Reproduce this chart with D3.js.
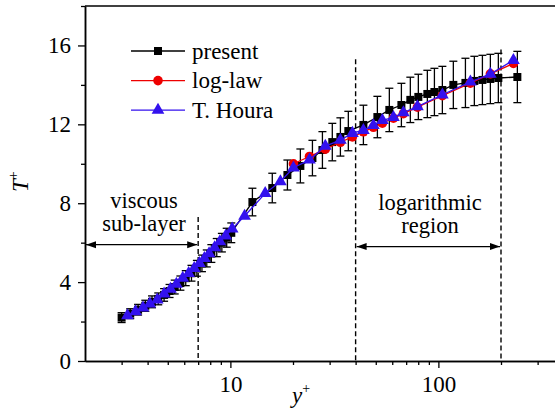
<!DOCTYPE html>
<html>
<head>
<meta charset="utf-8">
<script src="https://cdn.jsdelivr.net/npm/d3@7"></script>
<style>
    body { margin: 0; background: #fff; }
</style>
</head>
<body>
<svg id="chart" width="555" height="414"></svg>
<script>
"use strict";

const serif = "Liberation Serif";

// present (black squares, with error bars)
const presentYp = [3.0, 3.3, 3.6, 3.9, 4.2, 4.5, 4.8, 5.1, 5.4, 5.75, 6.1, 6.5, 6.9, 7.3, 7.7, 8.1, 8.6, 9.1, 9.6, 10.1,
    12.76, 15.9, 18.8, 21.7, 24.8, 27.7, 30.9, 33.8, 36.9, 43.6, 50.9, 58.1, 66.4, 73.3, 80.1, 88.5, 95.7,
    104.5, 118, 134.9, 148.9, 162.8, 177.8, 194.2, 239.7];
const presentT = [2.2, 2.4, 2.6, 2.8, 3.0, 3.15, 3.35, 3.55, 3.75, 3.95, 4.2, 4.45, 4.7, 4.95, 5.2, 5.45, 5.75, 6.0, 6.25, 6.5,
    8.06, 8.77, 9.43, 9.89, 10.29, 10.7, 11.1, 11.36, 11.66, 11.97, 12.37, 12.73, 12.98, 13.24, 13.39, 13.54, 13.64,
    13.74, 14.0, 14.1, 14.2, 14.25, 14.3, 14.35, 14.4];
const presentErr = [0.25, 0.25, 0.27, 0.28, 0.3, 0.3, 0.32, 0.33, 0.35, 0.36, 0.38, 0.4, 0.4, 0.42, 0.43, 0.45, 0.46, 0.47, 0.48, 0.5,
    0.7, 0.75, 0.76, 0.86, 0.9, 0.93, 0.95, 0.97, 1.0, 1.0, 1.05, 1.1, 1.1, 1.15, 1.15, 1.2, 1.2,
    1.2, 1.2, 1.25, 1.25, 1.25, 1.25, 1.25, 1.3];

// log-law (red circles)
const logLawYp = [20.1, 24.0, 28.6, 33.8, 38.6, 43.6, 48.7, 53.8, 60.8, 67.9, 79.3, 104.5, 142.5, 177.8, 229.5];
const logLawT = [10.0, 10.37, 10.74, 11.09, 11.36, 11.62, 11.85, 12.06, 12.31, 12.54, 12.87, 13.45, 14.09, 14.56, 15.09];

// T. Houra (blue triangles)
const houraYp = [3.2, 3.5, 3.8, 4.1, 4.45, 4.8, 5.15, 5.5, 5.9, 6.3, 6.7, 7.1, 7.5, 7.9, 8.4, 8.9, 9.5, 10.2,
    11.7, 14.7, 17.4, 20.1, 24.0, 28.6, 33.8, 38.6, 43.6, 48.7, 53.8, 60.8, 67.9, 79.3, 104.5, 142.5, 177.8, 229.5];
const houraT = [2.3, 2.5, 2.7, 2.9, 3.1, 3.4, 3.65, 3.9, 4.2, 4.45, 4.7, 4.95, 5.2, 5.45, 5.75, 6.05, 6.35, 6.7,
    7.35, 8.5, 9.1, 9.8, 10.2, 10.9, 11.2, 11.55, 11.7, 11.95, 12.2, 12.35, 12.6, 12.9, 13.5, 14.15, 14.55, 15.25];

// axis ticks
const yMajorTicks = [0, 4, 8, 12, 16];
const yMinorTicks = [2, 6, 10, 14, 18];
const xMajorTicks = [10, 100];
const xMinorTicks = [3, 4, 5, 6, 7, 8, 9, 20, 30, 40, 50, 60, 70, 80, 90, 200, 300];

// region boundaries (y+)
const viscousEdge = 7, logStart = 40, logEnd = 200;

const svg = d3.select("#chart").attr("font-family", serif);
const margin = {left: 85, top: 6},
    plotHeight = 355;

const x = d3.scaleLog().domain([2, 400]).range([margin.left, margin.left + 208 * Math.log10(200)]);
const y = d3.scaleLinear().domain([0, 18]).range([margin.top + plotHeight, margin.top]);

const series = (xs, ys) => xs.map((v, i) => [v, ys[i]]);
const presentData = presentYp.map((v, i) => ({yp: v, t: presentT[i], err: presentErr[i]}));

// markers for arrows
const defs = svg.append("defs");
defs.append("marker")
    .attr("id", "arrow")
    .attr("viewBox", "0 0 10 10")
    .attr("refX", 10).attr("refY", 5)
    .attr("markerWidth", 10).attr("markerHeight", 10)
    .attr("markerUnits", "userSpaceOnUse")
    .attr("orient", "auto-start-reverse")
    .append("path")
    .attr("d", "M0,1.5 L10,5 L0,8.5 Z")
    .attr("fill", "#000");

// frame: top line
svg.append("line")
    .attr("x1", x(2)).attr("x2", x(400))
    .attr("y1", y(18)).attr("y2", y(18))
    .attr("stroke", "#000").attr("stroke-width", 1.5);

// dashed region lines
const dashLines = [[viscousEdge, 7.3], [logStart, 15.3], [logEnd, 15.8]];
svg.selectAll("line.dash")
    .data(dashLines)
    .enter()
    .append("line")
    .attr("class", "dash")
    .attr("x1", (d) => x(d[0])).attr("x2", (d) => x(d[0]))
    .attr("y1", (d) => y(d[1])).attr("y2", y(0))
    .attr("stroke", "#000").attr("stroke-width", 1.4)
    .attr("stroke-dasharray", "5,3");

// arrows
svg.append("line")
    .attr("x1", x(2) + 1).attr("x2", x(viscousEdge) - 1)
    .attr("y1", y(5.9)).attr("y2", y(5.9))
    .attr("stroke", "#000").attr("stroke-width", 1.3)
    .attr("marker-start", "url(#arrow)").attr("marker-end", "url(#arrow)");
svg.append("line")
    .attr("x1", x(logStart) + 1).attr("x2", x(logEnd) - 1)
    .attr("y1", y(5.8)).attr("y2", y(5.8))
    .attr("stroke", "#000").attr("stroke-width", 1.3)
    .attr("marker-start", "url(#arrow)").attr("marker-end", "url(#arrow)");

// region labels
const annot = svg.append("g").attr("font-size", 22.5).attr("text-anchor", "middle").attr("fill", "#000");
annot.append("text").attr("x", 144).attr("y", 208).attr("font-family", serif).text("viscous");
annot.append("text").attr("x", 144).attr("y", 231).attr("font-family", serif).text("sub-layer");
annot.append("text").attr("x", 430).attr("y", 210).attr("font-family", serif).text("logarithmic");
annot.append("text").attr("x", 430).attr("y", 233).attr("font-family", serif).text("region");

// axes
const axisStyle = (g) => {
    g.attr("font-family", serif);
    g.select(".domain").attr("stroke-width", 1.5);
    g.selectAll(".tick line").attr("stroke-width", 1.3);
    g.selectAll(".tick text")
        .attr("font-size", 23)
        .attr("font-family", serif)
        .attr("fill", "#000");
};

svg.append("g")
    .attr("transform", `translate(0,${y(0)})`)
    .call(d3.axisBottom(x).tickValues(xMinorTicks).tickSize(4).tickSizeOuter(0).tickFormat(""))
    .call(axisStyle);
svg.append("g")
    .attr("transform", `translate(0,${y(0)})`)
    .call(d3.axisBottom(x).tickValues(xMajorTicks).tickSize(7).tickSizeOuter(0).tickPadding(8).tickFormat(d3.format("d")))
    .call(axisStyle);

svg.append("g")
    .attr("transform", `translate(${x(2)},0)`)
    .call(d3.axisLeft(y).tickValues(yMinorTicks).tickSize(4).tickSizeOuter(0).tickFormat(""))
    .call(axisStyle);
svg.append("g")
    .attr("transform", `translate(${x(2)},0)`)
    .call(d3.axisLeft(y).tickValues(yMajorTicks).tickSize(7).tickSizeOuter(0).tickPadding(7))
    .call(axisStyle);

// axis titles
const xTitle = svg.append("text").attr("x", 292).attr("y", 403)
    .attr("font-size", 23).attr("font-style", "italic").attr("font-family", serif);
xTitle.append("tspan").text("y");
xTitle.append("tspan").attr("dy", -10).attr("font-size", 14).attr("font-style", "normal").text("+");

const yTitle = svg.append("text")
    .attr("transform", "translate(28,192) rotate(-90)")
    .attr("font-size", 23).attr("font-style", "italic").attr("font-family", serif);
yTitle.append("tspan").text("T");
yTitle.append("tspan").attr("dy", -10).attr("font-size", 14).attr("font-style", "normal").text("+");

const line = d3.line().x((d) => x(d[0])).y((d) => y(d[1]));

const colors = {present: "#000", logLaw: "#ee0000", houra: "#3311ee"};

// present: error bars, line, squares
const errG = svg.append("g").attr("stroke", "#000").attr("stroke-width", 1.3);
presentData.forEach((d) => {
    const cx = x(d.yp);
    errG.append("line").attr("x1", cx).attr("x2", cx).attr("y1", y(d.t - d.err)).attr("y2", y(d.t + d.err));
    errG.append("line").attr("x1", cx - 4).attr("x2", cx + 4).attr("y1", y(d.t - d.err)).attr("y2", y(d.t - d.err));
    errG.append("line").attr("x1", cx - 4).attr("x2", cx + 4).attr("y1", y(d.t + d.err)).attr("y2", y(d.t + d.err));
});

svg.append("path")
    .datum(series(presentYp, presentT))
    .attr("d", line).attr("fill", "none")
    .attr("stroke", colors.present).attr("stroke-width", 1.3);

const square = d3.symbol().type(d3.symbolSquare).size(64);
const circle = d3.symbol().type(d3.symbolCircle).size(72);
const triangle = d3.symbol().type(d3.symbolTriangle).size(70);

svg.append("g").selectAll("path")
    .data(series(presentYp, presentT))
    .enter()
    .append("path")
    .attr("d", square)
    .attr("transform", (d) => `translate(${x(d[0])},${y(d[1])})`)
    .attr("fill", colors.present);

// log-law
svg.append("path")
    .datum(series(logLawYp, logLawT))
    .attr("d", line).attr("fill", "none")
    .attr("stroke", colors.logLaw).attr("stroke-width", 1.3);
svg.append("g").selectAll("path")
    .data(series(logLawYp, logLawT))
    .enter()
    .append("path")
    .attr("d", circle)
    .attr("transform", (d) => `translate(${x(d[0])},${y(d[1])})`)
    .attr("fill", colors.logLaw);

// T. Houra
svg.append("path")
    .datum(series(houraYp, houraT))
    .attr("d", line).attr("fill", "none")
    .attr("stroke", colors.houra).attr("stroke-width", 1.3);
svg.append("g").selectAll("path")
    .data(series(houraYp, houraT))
    .enter()
    .append("path")
    .attr("d", triangle)
    .attr("transform", (d) => `translate(${x(d[0])},${y(d[1])})`)
    .attr("fill", colors.houra);

// legend
const legendItems = [
    {label: "present", color: colors.present, symbol: square},
    {label: "log-law", color: colors.logLaw, symbol: circle},
    {label: "T. Houra", color: colors.houra, symbol: triangle}
];
const legend = svg.append("g");
legendItems.forEach((d, i) => {
    const ly = 51 + i * 29.6;
    legend.append("line")
        .attr("x1", 131).attr("x2", 185).attr("y1", ly).attr("y2", ly)
        .attr("stroke", d.color).attr("stroke-width", 1.3);
    legend.append("path")
        .attr("d", d.symbol)
        .attr("transform", `translate(158,${ly})`)
        .attr("fill", d.color);
    legend.append("text")
        .attr("x", 192).attr("y", ly + 7.5)
        .attr("font-size", 23)
        .attr("font-family", serif)
        .text(d.label);
});
</script>
</body>
</html>
